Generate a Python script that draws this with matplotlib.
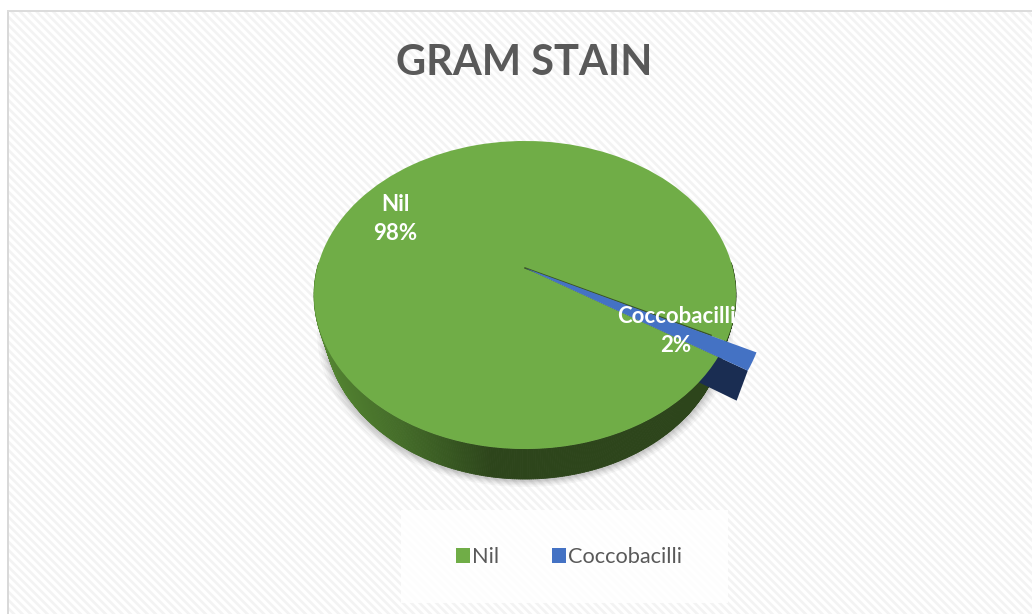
# -*- coding: utf-8 -*-
import numpy as np
import matplotlib
matplotlib.use('Agg')
import matplotlib.pyplot as plt
from matplotlib.collections import PolyCollection
from matplotlib.patches import Rectangle
from matplotlib.path import Path
from matplotlib.transforms import Transform

# data
title = 'GRAM STAIN'
categories = ['Nil', 'Coccobacilli']
values = [98.4, 1.6]
colors = ['#70AD47', '#4472C4']

plt.rcParams['font.family'] = ['Lato', 'DejaVu Sans']
plt.rcParams['hatch.linewidth'] = 1.9
plt.rcParams['hatch.color'] = '#f3f3f3'

# perspective of the tilted pie, everything below is in pixels
CX, CY = 525.0, 268.0
R, A, K = 207.7, 149.3, 0.1753
DEPTH, SHRINK = 30.0, 0.95


def to_px(u, v):
    d = 1 + K * v
    return CX + R * u / d, CY - A * v / d


def extrude(x, y):
    return CX + (x - CX) * SHRINK, y + DEPTH


class Persp(Transform):
    input_dims = output_dims = 2
    is_separable = False
    has_inverse = False

    def transform_non_affine(self, xy):
        x, y = to_px(xy[:, 0], xy[:, 1])
        return np.column_stack([x, y])

    def transform_path_non_affine(self, path):
        return Path(self.transform_non_affine(path.vertices), path.codes)


fig = plt.figure(figsize=(10.32, 6.14), dpi=100, facecolor='white')
ax = fig.add_axes([0, 0, 1, 1])

wedges, _ = ax.pie(values, colors=colors, startangle=-26.9, radius=1.0)
ax.set_aspect('auto')
ax.set_xlim(0, 1032)
ax.set_ylim(614, 0)

persp = Persp() + ax.transData
wedges[0].set_transform(persp)
wedges[1].set_radius(1.137)
wedges[1].set_transform(persp)
wedges[0].set_zorder(6)
wedges[1].set_zorder(7)
for w in wedges:
    w.set_linewidth(0)

# background
ax.add_patch(Rectangle((9, 12), 1023, 602, facecolor='white', edgecolor='#f3f3f3',
                       hatch='\\\\\\\\', linewidth=0, zorder=0))
ax.add_patch(Rectangle((7, 10), 2.4, 604, facecolor='#d9d9d9', linewidth=0, zorder=1))
ax.add_patch(Rectangle((7, 10), 1025, 1.6, facecolor='#dcdcdc', linewidth=0, zorder=1))

# soft shadow under the pie
theta = np.radians(np.linspace(0, 360, 361))
sx, sy = extrude(*to_px(np.cos(theta), np.sin(theta)))
for grow in [8, 6, 4.5, 3, 2, 1]:
    ax.fill(CX + (sx - CX) * (1 + grow / 215), sy + 1.5 + grow * 0.8,
            color='black', alpha=0.035, linewidth=0, zorder=2)

# pie wall, dark on the right and lighter towards the left
t = np.radians(np.linspace(178, 362, 369))
x0, y0 = to_px(np.cos(t), np.sin(t))
x1, y1 = extrude(x0, y0)
quads = [[(x0[i], y0[i]), (x0[i + 1], y0[i + 1]), (x1[i + 1], y1[i + 1]), (x1[i], y1[i])]
         for i in range(len(t) - 1)]
stops = [315, 345, 400, 450, 490, 760]
rgb = np.array([[0x55, 0x88, 0x33], [0x4f, 0x7d, 0x2f], [0x44, 0x6c, 0x29],
                [0x37, 0x57, 0x21], [0x2d, 0x45, 0x1b], [0x2d, 0x45, 0x1b]]) / 255
quad_colors = np.column_stack([np.interp(x0[:-1], stops, rgb[:, c]) for c in range(3)])
ax.add_collection(PolyCollection(quads, facecolors=quad_colors, edgecolors=quad_colors,
                                 linewidths=0.6, zorder=3))

# wall of the blue slice
low = np.radians(wedges[1].theta1)
high = np.radians(wedges[1].theta2)
r = wedges[1].r
ex, ey = to_px(r * np.cos(low), r * np.sin(low))
fx, fy = extrude(ex, ey)
ax.fill([CX, ex, fx, extrude(CX, CY)[0]], [CY, ey, fy, extrude(CX, CY)[1]],
        color='#1a2d52', linewidth=0, zorder=5)

# dark seam along the upper edge of the blue slice
hx, hy = to_px(0.93 * np.cos(high), 0.93 * np.sin(high))
ax.plot([CX, hx], [CY, hy - 0.5], color='#2a3d1c', linewidth=1.1, alpha=0.8, zorder=6.5)

# title and data labels
ax.text(524.5, 63, title, ha='center', va='center', fontsize=30, fontweight='bold',
        color='#595959', zorder=8)
ax.text(395, 219, '%s\n%.0f%%' % (categories[0], values[0]), ha='center', va='center',
        fontsize=16, fontweight='bold', color='white', linespacing=1.5, zorder=8)
ax.text(676, 331, '%s\n%.0f%%' % (categories[1], values[1]), ha='center', va='center',
        fontsize=16, fontweight='bold', color='white', linespacing=1.5, zorder=8)

# legend on a nearly white panel
ax.add_patch(Rectangle((401, 510), 327, 93, facecolor='white', alpha=0.85, linewidth=0, zorder=8))
leg = ax.legend(wedges, categories, loc='center', bbox_to_anchor=(569, 557),
                bbox_transform=ax.transData, ncol=2, frameon=False, fontsize=15.7,
                handlelength=0.65, handleheight=0.65, handletextpad=0.1, columnspacing=2.4,
                labelcolor='#595959')
leg.set_zorder(9)

fig.savefig('out.png', dpi=100)
